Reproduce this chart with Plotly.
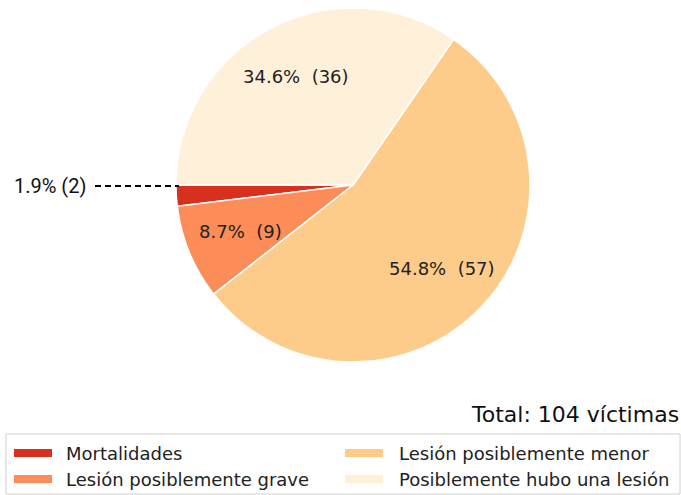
import math
import plotly.graph_objects as go

categories = ["Mortalidades", "Lesión posiblemente grave",
              "Lesión posiblemente menor", "Posiblemente hubo una lesión"]
values = [2, 9, 57, 36]
colors = ["#d7301f", "#fc8d59", "#fdcc8a", "#fef0d9"]
total_label = "Total: 104 víctimas"

W, H = 681, 495
def px(x):
    return x / W
def py(y):
    return 1 - y / H

# pie geometry in pixels
CX, CY, R = 353, 185, 177

total = sum(values)
# plotly counterclockwise: first slice sits clockwise of the rotation angle;
# shift so the first slice begins at 9 o'clock and runs downward
rotation = 270 - values[0] / total * 360

fig = go.Figure()
fig.add_trace(go.Pie(
    labels=categories, values=values, sort=False,
    direction="counterclockwise", rotation=rotation,
    marker=dict(colors=colors, line=dict(color="white", width=1.5)),
    textinfo="none", hoverinfo="label+value+percent",
    showlegend=False,
    domain=dict(x=[px(CX - R), px(CX + R)], y=[py(CY + R), py(CY - R)]),
))

annotations = []
shapes = []
cum = 0.0
for i, v in enumerate(values):
    frac = v / total
    mid = math.radians(180 + (cum + frac / 2) * 360)
    cum += frac
    pct = 100 * frac
    if frac < 0.05:
        # outside label with dashed leader
        ly = CY + 1
        shapes.append(dict(type="line", xref="paper", yref="paper",
                           x0=px(95), x1=px(CX - R + 3), y0=py(ly), y1=py(ly),
                           line=dict(color="black", width=2, dash="6px,4px")))
        annotations.append(dict(x=px(88), y=py(ly), xref="paper", yref="paper",
                                text=f"{pct:.1f}% ({v})", showarrow=False,
                                xanchor="right", yanchor="middle",
                                font=dict(family="Roboto", size=20, color="#111")))
    else:
        tx = CX + 0.69 * R * math.cos(mid)
        ty = CY - 0.69 * R * math.sin(mid)
        annotations.append(dict(x=px(tx), y=py(ty), xref="paper", yref="paper",
                                text=f"{pct:.1f}%  ({v})", showarrow=False,
                                xanchor="center", yanchor="middle",
                                font=dict(family="DejaVu Sans", size=18, color="#222")))

# total text
annotations.append(dict(x=px(681), y=py(414), xref="paper", yref="paper",
                        text=total_label, showarrow=False,
                        xanchor="right", yanchor="middle",
                        font=dict(family="DejaVu Sans", size=22, color="#111")))

# manual legend (two columns, column-major)
shapes.append(dict(type="rect", xref="paper", yref="paper",
                   x0=px(6), x1=px(680), y0=py(494), y1=py(434),
                   line=dict(color="#d0d0d0", width=1), fillcolor="rgba(255,255,255,0)"))
col_x = [14, 345]
row_y = [453, 479]
for i, (name, c) in enumerate(zip(categories, colors)):
    col, row = i // 2, i % 2
    x0 = col_x[col]
    yy = row_y[row]
    shapes.append(dict(type="rect", xref="paper", yref="paper",
                       x0=px(x0), x1=px(x0 + 38), y0=py(yy + 4), y1=py(yy - 4),
                       line=dict(width=0), fillcolor=c))
    annotations.append(dict(x=px(x0 + 52 - (2 if col == 0 else 0)), y=py(yy),
                            xref="paper", yref="paper",
                            text=name, showarrow=False,
                            xanchor="left", yanchor="middle",
                            font=dict(family="DejaVu Sans", size=18, color="#222")))

fig.update_layout(
    width=W, height=H,
    margin=dict(l=0, r=0, t=0, b=0),
    paper_bgcolor="white", plot_bgcolor="white",
    annotations=annotations, shapes=shapes,
)

fig.write_html("out.html", config={"displayModeBar": False},
               post_script="document.body.style.margin='0px';document.body.style.overflow='hidden';")
